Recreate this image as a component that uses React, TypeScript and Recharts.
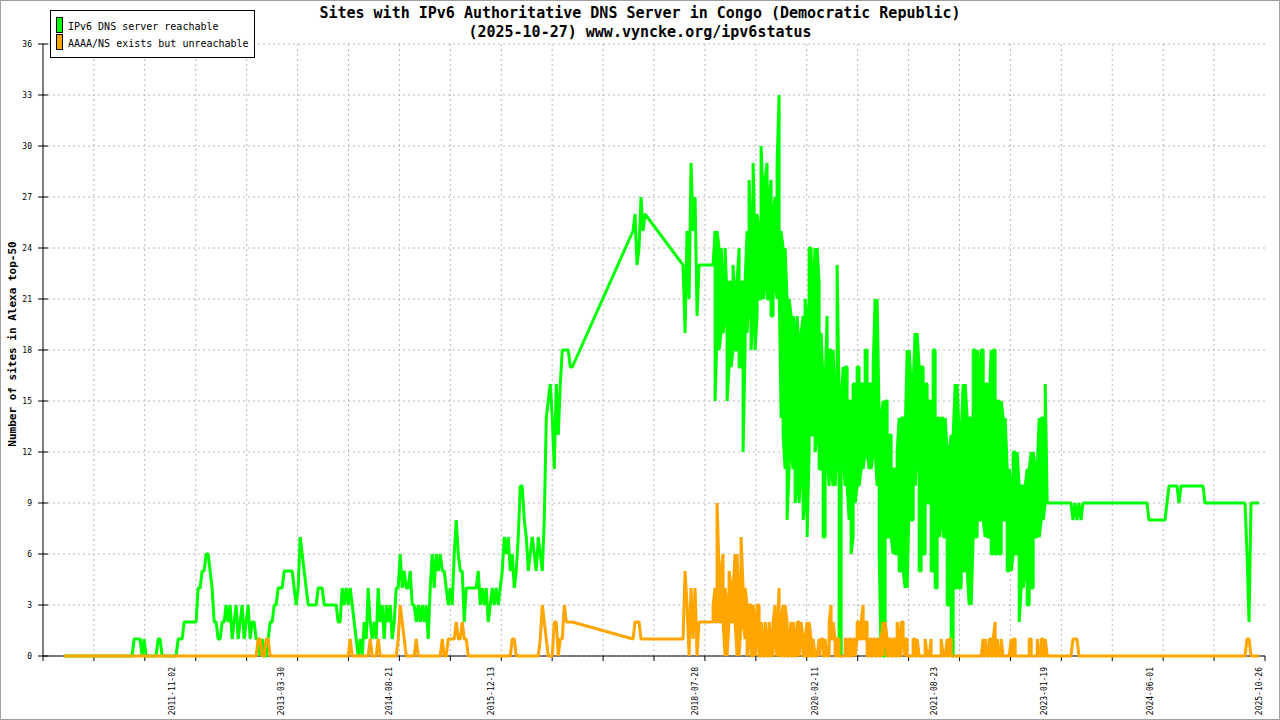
import React from 'react';
import { LineChart, Line, XAxis, YAxis, CartesianGrid } from 'recharts';

const DAY_MS = 86400000;
const toDay = (s: string) => Date.parse(s + 'T00:00:00Z') / DAY_MS;
const fromDay = (d: number) => new Date(Math.round(d) * DAY_MS).toISOString().slice(0, 10);

// sampling interval of the series below (days)
const STEP_DAYS = 9.4;

const axisStart = '2010-03-06';
const axisEnd = '2025-11-23';

const tickDates = [
  '2011-11-02', '2013-03-30', '2014-08-21', '2015-12-13', '2018-07-28',
  '2020-02-11', '2021-08-23', '2023-01-19', '2024-06-01', '2025-10-26',
];
const yTicks = [0, 3, 6, 9, 12, 15, 18, 21, 24, 27, 30, 33, 36];

// 2010-06 .. 2016-07
const startA = '2010-06-13';
const greenA = [
  0, 0, 0, 0, 0, 0, 0, 0, 0, 0,
  0, 0, 0, 0, 0, 0, 0, 0, 0, 0,
  0, 0, 0, 0, 0, 0, 0, 0, 0, 0,
  0, 0, 0, 0, 0, 1, 1, 1, 1, 0,
  1, 0, 0, 0, 0, 0, 0, 1, 1, 0,
  0, 0, 0, 0, 0, 0, 0, 1, 1, 1,
  2, 2, 2, 2, 2, 2, 2, 4, 4, 5,
  5, 6, 6, 5, 4, 2, 2, 1, 1, 2,
  2, 3, 2, 3, 1, 2, 3, 1, 2, 3,
  1, 2, 3, 1, 2, 2, 1, 1, 0, 1,
  0, 0, 1, 2, 2, 3, 3, 4, 4, 4,
  5, 5, 5, 5, 5, 4, 3, 4, 7, 6,
  5, 4, 3, 3, 3, 3, 3, 4, 4, 4,
  3, 3, 3, 3, 3, 3, 3, 2, 2, 4,
  3, 4, 3, 4, 3, 2, 1, 0, 1, 0,
  2, 1, 4, 2, 1, 2, 1, 4, 2, 3,
  1, 3, 2, 3, 1, 2, 4, 4, 6, 4,
  5, 4, 4, 5, 3, 3, 2, 3, 2, 3,
  2, 3, 1, 4, 6, 4, 6, 5, 6, 5,
  5, 4, 3, 4, 3, 6, 8, 6, 5, 5,
  2, 4, 4, 4, 4, 4, 4, 5, 3, 4,
  3, 4, 2, 3, 4, 3, 4, 3, 4, 5,
  7, 6, 7, 5, 6, 4, 5, 7, 10, 10,
  8, 7, 5, 6, 7, 6, 5, 7, 6, 5,
  8, 14, 15, 16, 14, 11, 16, 13, 16, 18,
  18, 18, 18, 17, 17,
];
const orangeA = [
  0, 0, 0, 0, 0, 0, 0, 0, 0, 0,
  0, 0, 0, 0, 0, 0, 0, 0, 0, 0,
  0, 0, 0, 0, 0, 0, 0, 0, 0, 0,
  0, 0, 0, 0, 0, 0, 0, 0, 0, 0,
  0, 0, 0, 0, 0, 0, 0, 0, 0, 0,
  0, 0, 0, 0, 0, 0, 0, 0, 0, 0,
  0, 0, 0, 0, 0, 0, 0, 0, 0, 0,
  0, 0, 0, 0, 0, 0, 0, 0, 0, 0,
  0, 0, 0, 0, 0, 0, 0, 0, 0, 0,
  0, 0, 0, 0, 0, 0, 0, 1, 1, 0,
  0, 1, 1, 0, 0, 0, 0, 0, 0, 0,
  0, 0, 0, 0, 0, 0, 0, 0, 0, 0,
  0, 0, 0, 0, 0, 0, 0, 0, 0, 0,
  0, 0, 0, 0, 0, 0, 0, 0, 0, 0,
  0, 0, 0, 1, 0, 0, 0, 0, 0, 0,
  0, 0, 0, 1, 0, 0, 0, 1, 0, 0,
  0, 0, 0, 0, 0, 0, 0, 1, 3, 2,
  1, 0, 0, 0, 0, 0, 1, 0, 0, 0,
  0, 0, 0, 0, 0, 0, 0, 0, 0, 1,
  0, 0, 1, 1, 1, 1, 2, 1, 1, 2,
  1, 1, 0, 0, 0, 0, 0, 0, 0, 0,
  0, 0, 0, 0, 0, 0, 0, 0, 0, 0,
  0, 0, 0, 0, 1, 1, 0, 0, 0, 0,
  0, 0, 0, 0, 0, 0, 0, 0, 1, 3,
  2, 1, 0, 0, 0, 2, 2, 0, 1, 1,
  3, 2, 2, 2, 2,
];

// 2017-10
const startB = '2017-10-07';
const greenB = [25, 26, 23, 24, 27, 25, 26];
const orangeB = [1, 2, 2, 2, 1, 1, 1];

// 2018-05 .. 2018-07
const startC = '2018-05-30';
const greenC = [23, 19, 25, 21, 29, 25, 27, 20, 23];
const orangeC = [1, 5, 3, 0, 4, 1, 4, 0, 2];

// 2018-10 .. 2023-02, daily values summarised as high / low per sample
const startD = '2018-10-18';
const greenDHigh = [
  23, 25, 25, 24, 24, 22, 24, 21, 22, 22,
  23, 21, 22, 24, 22, 22, 22, 25, 28, 25,
  29, 24, 26, 25, 30, 27, 28, 29, 27, 28,
  26, 27, 29, 33, 25, 24, 24, 21, 21, 20,
  20, 19, 20, 18, 19, 20, 21, 20, 24, 24,
  22, 24, 24, 22, 19, 16, 16, 20, 18, 18,
  18, 15, 23, 15, 15, 17, 17, 17, 15, 15,
  16, 16, 17, 17, 16, 16, 18, 18, 16, 16,
  17, 21, 21, 14, 14, 15, 15, 15, 13, 13,
  11, 11, 12, 14, 14, 14, 13, 18, 18, 16,
  16, 19, 19, 17, 17, 17, 16, 16, 15, 15,
  18, 18, 14, 14, 14, 14, 14, 12, 12, 13,
  13, 16, 16, 13, 13, 16, 16, 14, 14, 14,
  18, 18, 18, 17, 18, 18, 16, 16, 15, 18,
  18, 18, 15, 15, 15, 14, 14, 11, 11, 10,
  12, 12, 12, 10, 10, 10, 10, 11, 11, 12,
  12, 11, 11, 14, 14, 14, 16, 9,
];
const greenDLow = [
  23, 15, 19, 18, 19, 19, 20, 15, 17, 17,
  18, 18, 18, 17, 17, 12, 18, 19, 21, 18,
  20, 18, 20, 21, 21, 21, 22, 21, 21, 20,
  20, 22, 21, 22, 14, 13, 11, 8, 11, 12,
  11, 9, 10, 9, 11, 8, 9, 7, 12, 13,
  13, 12, 13, 11, 11, 7, 7, 12, 10, 11,
  10, 10, 12, 0, 0, 12, 10, 10, 8, 6,
  7, 9, 10, 10, 11, 11, 12, 12, 11, 11,
  12, 12, 10, 6, 0, 0, 0, 7, 7, 7,
  6, 6, 6, 5, 5, 5, 4, 4, 9, 8,
  8, 10, 12, 5, 5, 6, 6, 9, 9, 5,
  5, 4, 4, 7, 8, 7, 7, 3, 3, 0,
  0, 4, 4, 4, 4, 5, 5, 5, 3, 3,
  7, 7, 7, 8, 8, 8, 7, 7, 7, 6,
  6, 6, 6, 6, 6, 8, 8, 5, 5, 5,
  6, 6, 6, 2, 4, 4, 5, 3, 3, 4,
  4, 7, 7, 7, 8, 8, 9, 9,
];
const orangeDHigh = [
  3, 4, 9, 5, 5, 6, 4, 3, 5, 4,
  4, 6, 6, 3, 7, 4, 4, 3, 3, 3,
  3, 2, 3, 3, 2, 1, 2, 1, 2, 1,
  2, 3, 1, 4, 2, 3, 3, 2, 1, 2,
  2, 1, 2, 2, 2, 1, 1, 2, 2, 1,
  1, 0, 0, 1, 1, 1, 1, 0, 2, 3,
  2, 1, 1, 1, 0, 0, 1, 1, 1, 1,
  1, 1, 2, 2, 2, 3, 2, 2, 1, 1,
  1, 1, 1, 1, 1, 2, 2, 1, 1, 1,
  1, 1, 2, 1, 2, 2, 1, 1, 0, 0,
  1, 1, 1, 0, 0, 0, 1, 0, 0, 1,
  0, 0, 0, 0, 1, 0, 0, 1, 1, 1,
  0, 0, 0, 0, 0, 0, 0, 0, 0, 0,
  0, 0, 0, 0, 0, 1, 1, 0, 1, 1,
  1, 2, 1, 0, 1, 0, 0, 0, 0, 1,
  1, 1, 0, 0, 0, 0, 0, 0, 1, 1,
  0, 0, 1, 0, 1, 1, 1, 0,
];
const orangeDLow = [
  2, 2, 2, 2, 2, 2, 0, 0, 2, 2,
  2, 2, 0, 0, 2, 2, 1, 0, 1, 0,
  0, 0, 1, 0, 0, 0, 0, 0, 0, 0,
  0, 1, 0, 0, 0, 0, 0, 0, 0, 0,
  0, 0, 0, 0, 1, 0, 0, 0, 0, 0,
  0, 0, 0, 0, 1, 0, 0, 0, 0, 1,
  1, 0, 0, 0, 0, 0, 0, 0, 0, 0,
  0, 0, 1, 1, 1, 1, 1, 0, 0, 0,
  0, 0, 0, 0, 0, 0, 1, 0, 0, 0,
  0, 0, 0, 0, 0, 1, 0, 0, 0, 0,
  0, 0, 0, 0, 0, 0, 0, 0, 0, 0,
  0, 0, 0, 0, 0, 0, 0, 0, 0, 0,
  0, 0, 0, 0, 0, 0, 0, 0, 0, 0,
  0, 0, 0, 0, 0, 0, 0, 0, 0, 0,
  0, 0, 0, 0, 0, 0, 0, 0, 0, 0,
  0, 0, 0, 0, 0, 0, 0, 0, 0, 0,
  0, 0, 0, 0, 0, 0, 0, 0,
];

// 2023-02 .. 2025-10
const startE = '2023-02-12';
const greenE = [
  9, 9, 9, 9, 9, 9, 9, 9, 9, 9,
  9, 9, 8, 9, 8, 9, 8, 9, 9, 9,
  9, 9, 9, 9, 9, 9, 9, 9, 9, 9,
  9, 9, 9, 9, 9, 9, 9, 9, 9, 9,
  9, 9, 9, 9, 9, 9, 9, 9, 9, 9,
  8, 8, 8, 8, 8, 8, 8, 8, 8, 9,
  10, 10, 10, 10, 10, 9, 10, 10, 10, 10,
  10, 10, 10, 10, 10, 10, 10, 10, 9, 9,
  9, 9, 9, 9, 9, 9, 9, 9, 9, 9,
  9, 9, 9, 9, 9, 9, 9, 9, 9, 6,
  2, 9, 9, 9, 9, 9,
];
const orangeE = [
  0, 0, 0, 0, 0, 0, 0, 0, 0, 0,
  0, 0, 1, 1, 1, 0, 0, 0, 0, 0,
  0, 0, 0, 0, 0, 0, 0, 0, 0, 0,
  0, 0, 0, 0, 0, 0, 0, 0, 0, 0,
  0, 0, 0, 0, 0, 0, 0, 0, 0, 0,
  0, 0, 0, 0, 0, 0, 0, 0, 0, 0,
  0, 0, 0, 0, 0, 0, 0, 0, 0, 0,
  0, 0, 0, 0, 0, 0, 0, 0, 0, 0,
  0, 0, 0, 0, 0, 0, 0, 0, 0, 0,
  0, 0, 0, 0, 0, 0, 0, 0, 0, 1,
  1, 0, 0, 0, 0, 0,
];

type Row = { t: number; green: number; orange: number };

const sampled = (start: string, green: number[], orange: number[]): Row[] =>
  green.map((g, i) => ({ t: toDay(start) + i * STEP_DAYS, green: g, orange: orange[i] ?? 0 }));

// each sample drawn as a vertical stroke low -> high (alternating direction)
const banded = (start: string, gHi: number[], gLo: number[], oHi: number[], oLo: number[]): Row[] =>
  gHi.flatMap((_, i) => {
    const t = toDay(start) + i * STEP_DAYS;
    const lo = { t, green: gLo[i], orange: oLo[i] };
    const hi = { t, green: gHi[i], orange: oHi[i] };
    return i % 2 === 0 ? [lo, hi] : [hi, lo];
  });

const data: Row[] = [
  ...sampled(startA, greenA, orangeA),
  ...sampled(startB, greenB, orangeB),
  ...sampled(startC, greenC, orangeC),
  ...banded(startD, greenDHigh, greenDLow, orangeDHigh, orangeDLow),
  ...sampled(startE, greenE, orangeE),
];

const d0 = toDay(axisStart);
const d1 = toDay(axisEnd);
const gridTicks = Array.from({ length: 25 }, (_, k) => d0 + (k * (d1 - d0)) / 24);
const labelTicks = tickDates.map(toDay);

const MONO = '"DejaVu Sans Mono", "Liberation Mono", monospace';
const GREEN = '#00ff00';
const ORANGE = '#ffa500';

const YTick = ({ x, y, payload }: any) => (
  <g>
    <line x1={x} x2={x + 10} y1={y} y2={y} stroke="#000" strokeWidth={1} />
    <text x={x - 6} y={y} dy="0.34em" textAnchor="end" fontSize={8} fontFamily={MONO} fill="#000">
      {payload.value}
    </text>
  </g>
);

const XLabelTick = ({ x, y, payload }: any) => (
  <text
    x={x}
    y={y}
    transform={`rotate(-90 ${x} ${y})`}
    textAnchor="end"
    dy="0.34em"
    fontSize={8}
    fontFamily={MONO}
    fill="#000"
  >
    {fromDay(payload.value)}
  </text>
);

const NoTick = () => <g />;

export default function App() {
  return (
    <div style={{ position: 'absolute', left: 0, top: 0, width: 1280, height: 720, background: '#fff' }}>
      <LineChart width={1280} height={720} data={data} margin={{ top: 44, right: 15, left: 0, bottom: 0 }}>
        <CartesianGrid
          xAxisId="grid"
          stroke="#b8b8b8"
          strokeDasharray="2 3"
          verticalValues={gridTicks.slice(1, 24)}
        />
        <XAxis
          xAxisId="grid"
          dataKey="t"
          type="number"
          domain={[d0, d1]}
          ticks={gridTicks}
          interval={0}
          height={10}
          tickSize={5}
          tick={NoTick}
          axisLine={{ stroke: '#000', strokeWidth: 1 }}
          tickLine={{ stroke: '#000', strokeWidth: 1 }}
        />
        <XAxis
          xAxisId="lab"
          dataKey="t"
          type="number"
          domain={[d0, d1]}
          ticks={labelTicks}
          interval={0}
          height={54}
          tickSize={1}
          tickMargin={0}
          axisLine={false}
          tickLine={false}
          tick={XLabelTick}
        />
        <YAxis
          type="number"
          domain={[0, 36]}
          ticks={yTicks}
          interval={0}
          width={43}
          tickSize={5}
          tickMargin={0}
          axisLine={{ stroke: '#000', strokeWidth: 1 }}
          tickLine={false}
          tick={YTick}
        />
        <Line
          xAxisId="grid"
          type="linear"
          dataKey="green"
          stroke={GREEN}
          strokeWidth={3}
          strokeLinejoin="bevel"
          dot={false}
          activeDot={false}
          isAnimationActive={false}
          zIndex={600}
        />
        <Line
          xAxisId="grid"
          type="linear"
          dataKey="orange"
          stroke={ORANGE}
          strokeWidth={3}
          strokeLinejoin="bevel"
          dot={false}
          activeDot={false}
          isAnimationActive={false}
          zIndex={610}
        />
      </LineChart>
      <svg
        width={1280}
        height={720}
        style={{ position: 'absolute', left: 0, top: 0, pointerEvents: 'none' }}
      >
        <text x={640} y={18} textAnchor="middle" fontSize={15} fontWeight="bold" fontFamily={MONO} fill="#000">
          Sites with IPv6 Authoritative DNS Server in Congo (Democratic Republic)
        </text>
        <text x={640} y={37} textAnchor="middle" fontSize={15} fontWeight="bold" fontFamily={MONO} fill="#000">
          (2025-10-27) www.vyncke.org/ipv6status
        </text>
        <text
          x={16}
          y={344}
          transform="rotate(-90 16 344)"
          textAnchor="middle"
          fontSize={11}
          fontWeight="bold"
          fontFamily={MONO}
          fill="#000"
        >
          Number of sites in Alexa top-50
        </text>
        <rect x={50.5} y={10.5} width={204} height={47} fill="#fff" stroke="#000" strokeWidth={1} />
        <rect x={56.5} y={17.5} width={6} height={15} fill={GREEN} stroke="#000" strokeWidth={1} />
        <text x={68} y={30} fontSize={10} fontFamily={MONO} fill="#000">
          IPv6 DNS server reachable
        </text>
        <rect x={56.5} y={34.5} width={6} height={15} fill={ORANGE} stroke="#000" strokeWidth={1} />
        <text x={68} y={47} fontSize={10} fontFamily={MONO} fill="#000">
          AAAA/NS exists but unreachable
        </text>
      </svg>
      <div
        style={{
          position: 'absolute',
          left: 0,
          top: 0,
          width: 1280,
          height: 720,
          boxSizing: 'border-box',
          border: '1px solid #a0a0a0',
          pointerEvents: 'none',
        }}
      />
    </div>
  );
}
